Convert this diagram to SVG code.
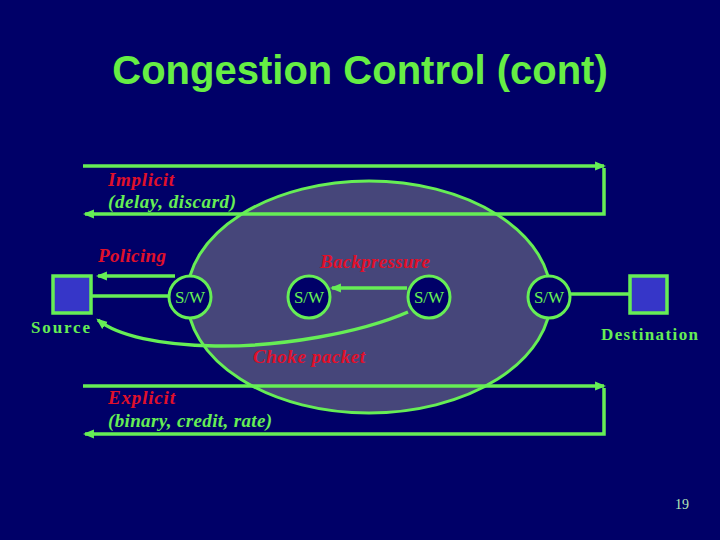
<svg xmlns="http://www.w3.org/2000/svg" width="720" height="540" viewBox="0 0 720 540">
<style>
.bg{fill:#000068}
.ln{fill:none;stroke:#66ee55;stroke-width:3.5}
.sw circle{fill:#000068;stroke:#66ee55;stroke-width:3}
.sw text{font-family:"Liberation Serif",serif;font-size:17px;fill:#66ee55;text-anchor:middle}
.box{fill:#3636c8;stroke:#66ee55;stroke-width:3.5}
.red{font-family:"Liberation Serif",serif;font-size:19px;font-weight:bold;font-style:italic;fill:#e0102a}
.grn{font-family:"Liberation Serif",serif;font-size:19px;font-weight:bold;font-style:italic;fill:#66ee55}
.lbl{font-family:"Liberation Serif",serif;font-size:17px;font-weight:bold;fill:#66ee55}
</style>
<defs>
<marker id="ah" viewBox="0 0 10 10" refX="8" refY="5" markerWidth="3.2" markerHeight="3.2" orient="auto" markerUnits="strokeWidth">
<path d="M0,1 L10,5 L0,9 z" fill="#66ee55"/>
</marker>
</defs>
<rect class="bg" x="0" y="0" width="720" height="540"/>
<text x="360" y="84" text-anchor="middle" font-family="Liberation Sans, Arial, sans-serif" font-size="40" font-weight="bold" fill="#66ee44">Congestion Control (cont)</text>

<g id="network">
<ellipse cx="369" cy="297" rx="182" ry="116" fill="#46467a" stroke="#66ee55" stroke-width="3"/>
</g>

<g id="connectors">
<line class="ln" x1="83" y1="166" x2="604" y2="166" marker-end="url(#ah)"/>
<polyline class="ln" points="604,168 604,214 85,214" marker-end="url(#ah)"/>
<line class="ln" x1="83" y1="386" x2="604" y2="386" marker-end="url(#ah)"/>
<polyline class="ln" points="604,388 604,434 85,434" marker-end="url(#ah)"/>
<line class="ln" x1="92" y1="296" x2="168" y2="296"/>
<line class="ln" x1="175" y1="276" x2="98" y2="276" marker-end="url(#ah)"/>
<line class="ln" x1="407" y1="288" x2="332" y2="288" marker-end="url(#ah)"/>
<line class="ln" x1="570" y1="294" x2="630" y2="294"/>
<path class="ln" d="M408,312 C360,333 280,347 215,346 C160,345 118,336 98,320" marker-end="url(#ah)"/>
</g>

<g id="source">
<rect class="box" x="53" y="276" width="38" height="37"/>
<text class="lbl" x="31" y="333" textLength="59" lengthAdjust="spacing">Source</text>
</g>
<g id="destination">
<rect class="box" x="630" y="276" width="37" height="37"/>
<text class="lbl" x="601" y="340" textLength="97" lengthAdjust="spacing">Destination</text>
</g>

<g id="sw1" class="sw"><circle cx="190" cy="297" r="21"/><text x="190" y="303">S/W</text></g>
<g id="sw2" class="sw"><circle cx="309" cy="297" r="21"/><text x="309" y="303">S/W</text></g>
<g id="sw3" class="sw"><circle cx="429" cy="297" r="21"/><text x="429" y="303">S/W</text></g>
<g id="sw4" class="sw"><circle cx="549" cy="297" r="21"/><text x="549" y="303">S/W</text></g>

<g id="labels">
<text class="red" x="108" y="186" textLength="66" lengthAdjust="spacing">Implicit</text>
<text class="grn" x="108" y="208" textLength="128" lengthAdjust="spacing">(delay, discard)</text>
<text class="red" x="98" y="262" textLength="68" lengthAdjust="spacing">Policing</text>
<text class="red" x="320" y="268" textLength="110" lengthAdjust="spacing">Backpressure</text>
<text class="red" x="253" y="363" textLength="112" lengthAdjust="spacing">Choke packet</text>
<text class="red" x="108" y="404" textLength="67" lengthAdjust="spacing">Explicit</text>
<text class="grn" x="108" y="427" textLength="164" lengthAdjust="spacing">(binary, credit, rate)</text>
</g>
<text x="675" y="509" font-family="Liberation Serif, serif" font-size="14" fill="#b8e8b8">19</text>
</svg>
